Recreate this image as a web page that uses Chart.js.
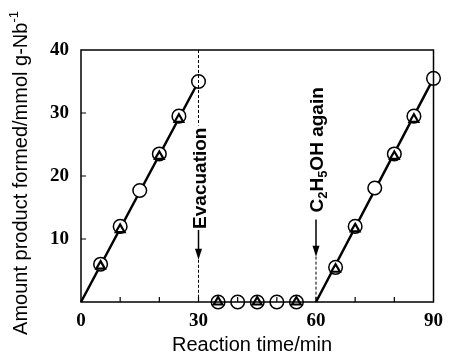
<!DOCTYPE html>
<html>
<head>
<meta charset="utf-8">
<script src="https://cdn.jsdelivr.net/npm/chart.js@4"></script>
<style>
  body { margin: 0; background: #fff; }
  #wrap { width: 451px; height: 353px; }
</style>
</head>
<body>
<div id="wrap"><canvas id="amountChart" width="451" height="353"></canvas></div>
<script>
// reaction time (min) / amount formed (mmol g-Nb-1)
const circleTimes = [5, 10, 15, 20, 25, 30, 35, 40, 45, 50, 55, 65, 70, 75, 80, 85, 90];
const circleAmounts = [6.0, 12.0, 17.7, 23.5, 29.5, 35.0, 0, 0, 0, 0, 0, 5.5, 12.0, 18.1, 23.5, 29.5, 35.5];
const triangleTimes = [5, 10, 20, 25, 35, 45, 55, 65, 70, 80, 85];
const triangleAmounts = [5.7, 11.5, 23.1, 29.0, 0, 0, 0, 5.2, 11.6, 23.1, 29.0];
// straight lines drawn through the two reaction periods
const lineTimes = [0, 30, 30, 60, 90];
const lineAmounts = [0, 35.0, null, 0, 35.5];
const xTicks = [0, 30, 60, 90];
const yTicks = [10, 20, 30, 40];
// events marked on the time axis
const eventTimes = [30, 60];

const serif = '"Liberation Serif", "Times New Roman", serif';
const sans = '"Liberation Sans", Arial, Helvetica, sans-serif';

function toPoints(xs, ys) {
    return xs.map((x, i) => ({ x: x, y: ys[i] }));
}

// draws text made of pieces [text, isSub, isSup] along the current x axis
function drawPieces(ctx, pieces, size, x) {
    pieces.forEach(p => {
        const small = p[1] || p[2];
        ctx.font = 'bold ' + (small ? Math.round(size * 0.68) : size) + 'px ' + sans;
        const dy = p[1] ? 4 : (p[2] ? -8 : 0);
        ctx.fillText(p[0], x, dy);
        x += ctx.measureText(p[0]).width;
    });
    return x;
}

function piecesWidth(ctx, pieces, size) {
    let w = 0;
    pieces.forEach(p => {
        const small = p[1] || p[2];
        ctx.font = 'bold ' + (small ? Math.round(size * 0.68) : size) + 'px ' + sans;
        w += ctx.measureText(p[0]).width;
    });
    return w;
}

function arrowDown(ctx, x, y0, y1) {
    ctx.setLineDash([]);
    ctx.lineWidth = 1.5;
    ctx.beginPath();
    ctx.moveTo(x, y0);
    ctx.lineTo(x, y1 - 8);
    ctx.stroke();
    ctx.beginPath();
    ctx.moveTo(x, y1);
    ctx.lineTo(x - 3.5, y1 - 11);
    ctx.lineTo(x + 3.5, y1 - 11);
    ctx.closePath();
    ctx.fill();
}

function dashed(ctx, x, y0, y1) {
    ctx.setLineDash([3, 2]);
    ctx.lineWidth = 1;
    ctx.beginPath();
    ctx.moveTo(x, y0);
    ctx.lineTo(x, y1);
    ctx.stroke();
    ctx.setLineDash([]);
}

const framePlugin = {
    id: 'frame',
    afterDraw(chart) {
        const ctx = chart.ctx;
        const a = chart.chartArea;
        const xs = chart.scales.x;
        const ys = chart.scales.y;
        ctx.save();
        ctx.strokeStyle = '#000';
        ctx.fillStyle = '#000';

        // box
        ctx.lineWidth = 1.5;
        ctx.strokeRect(a.left, a.top, a.right - a.left, a.bottom - a.top);

        // inward ticks
        ctx.lineWidth = 1.2;
        ctx.beginPath();
        for (let v = 10; v < 90; v += 10) {
            const px = xs.getPixelForValue(v);
            ctx.moveTo(px, a.bottom);
            ctx.lineTo(px, a.bottom - 5);
        }
        for (let v = 10; v < 40; v += 10) {
            const py = ys.getPixelForValue(v);
            ctx.moveTo(a.left, py);
            ctx.lineTo(a.left + 5, py);
        }
        ctx.stroke();

        // Evacuation marker
        const size = 19;
        let x = xs.getPixelForValue(eventTimes[0]);
        let start = ys.getPixelForValue(11.6);
        let pieces = [['Evacuation']];
        let w = piecesWidth(ctx, pieces, size);
        dashed(ctx, x, a.top, start - w - 2);
        ctx.save();
        ctx.translate(x + 7, start);
        ctx.rotate(-Math.PI / 2);
        ctx.textBaseline = 'alphabetic';
        ctx.textAlign = 'left';
        drawPieces(ctx, pieces, size, 0);
        ctx.restore();
        const tip1 = ys.getPixelForValue(6.7);
        arrowDown(ctx, x, start + 1, tip1);
        dashed(ctx, x, tip1, a.bottom);

        // C2H5OH again marker
        x = xs.getPixelForValue(eventTimes[1]);
        start = ys.getPixelForValue(14.2);
        pieces = [['C'], ['2', true], ['H'], ['5', true], ['OH again']];
        ctx.save();
        ctx.translate(x + 7, start);
        ctx.rotate(-Math.PI / 2);
        ctx.textBaseline = 'alphabetic';
        ctx.textAlign = 'left';
        drawPieces(ctx, pieces, size, 0);
        ctx.restore();
        const tip2 = ys.getPixelForValue(7.2);
        arrowDown(ctx, x, ys.getPixelForValue(13.1), tip2);
        dashed(ctx, x, tip2, a.bottom);

        // axis titles
        ctx.textBaseline = 'alphabetic';
        ctx.textAlign = 'left';
        ctx.font = '20px ' + sans;
        const xt = 'Reaction time/min';
        const xw = ctx.measureText(xt).width;
        ctx.fillText(xt, 252 - xw / 2, 351);

        ctx.save();
        ctx.translate(27, 173);
        ctx.rotate(-Math.PI / 2);
        ctx.font = '20px ' + sans;
        const yt = 'Amount product formed/mmol g-Nb';
        const yw = ctx.measureText(yt).width;
        ctx.font = '13px ' + sans;
        const sw = ctx.measureText('-1').width;
        const sx = -(yw + sw) / 2;
        ctx.font = '20px ' + sans;
        ctx.fillText(yt, sx, 0);
        ctx.font = '13px ' + sans;
        ctx.fillText('-1', sx + yw, -9);
        ctx.restore();

        ctx.restore();
    }
};

const ctx = document.getElementById('amountChart').getContext('2d');
new Chart(ctx, {
    type: 'scatter',
    data: {
        datasets: [
            {
                label: 'triangles',
                data: toPoints(triangleTimes, triangleAmounts),
                pointStyle: 'triangle',
                pointRadius: 5,
                pointBorderWidth: 2.2,
                pointBackgroundColor: '#fff',
                pointBorderColor: '#000',
                showLine: false,
                clip: false,
                order: 0
            },
            {
                label: 'circles',
                data: toPoints(circleTimes, circleAmounts),
                pointStyle: 'circle',
                pointRadius: 6.8,
                pointBorderWidth: 1.5,
                pointBackgroundColor: '#fff',
                pointBorderColor: '#000',
                showLine: false,
                clip: false,
                order: 1
            },
            {
                label: 'fit',
                data: toPoints(lineTimes, lineAmounts),
                showLine: true,
                spanGaps: false,
                borderColor: '#000',
                borderWidth: 2.5,
                pointRadius: 0,
                tension: 0,
                clip: false,
                order: 2
            }
        ]
    },
    options: {
        responsive: false,
        animation: false,
        events: [],
        layout: { padding: { top: 50, right: 9, left: 0, bottom: 0 } },
        plugins: {
            legend: { display: false },
            tooltip: { enabled: false }
        },
        scales: {
            x: {
                type: 'linear',
                min: 0,
                max: 90,
                grid: { display: false, drawTicks: false },
                border: { display: false },
                afterBuildTicks: scale => {
                    scale.ticks = xTicks.map(v => ({ value: v }));
                },
                afterFit: scale => { scale.height = 51; },
                ticks: {
                    autoSkip: false,
                    maxRotation: 0,
                    padding: 8,
                    color: '#000',
                    font: { family: serif, size: 19, weight: 'bold' }
                }
            },
            y: {
                type: 'linear',
                min: 0,
                max: 40,
                grid: { display: false, drawTicks: false },
                border: { display: false },
                afterBuildTicks: scale => {
                    scale.ticks = yTicks.map(v => ({ value: v }));
                },
                afterFit: scale => { scale.width = 81; },
                ticks: {
                    padding: 12,
                    color: '#000',
                    font: { family: serif, size: 19, weight: 'bold' }
                }
            }
        }
    },
    plugins: [framePlugin]
});
</script>
</body>
</html>
